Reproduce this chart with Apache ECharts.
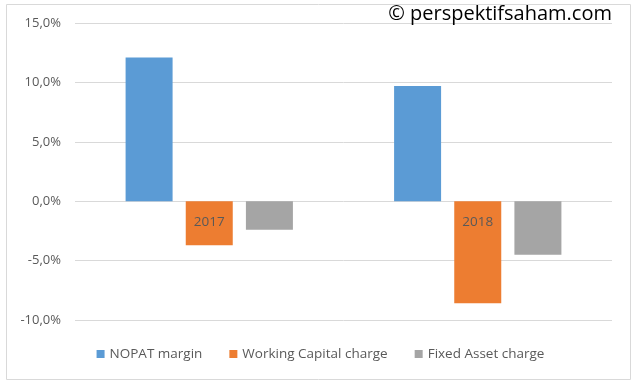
<!DOCTYPE html>
<html><head><meta charset="utf-8">
<script src="https://cdn.jsdelivr.net/npm/echarts@6/dist/echarts.min.js"></script>
<style>html,body{margin:0;padding:0;background:#fff}#c{width:641px;height:386px}</style>
</head><body><div id="c"></div>
<script>
const categories = ['2017', '2018'];
const nopatMargin = [12.1, 9.7];
const workingCapitalCharge = [-3.7, -8.6];
const fixedAssetCharge = [-2.4, -4.5];
const seriesNames = ['NOPAT margin', 'Working Capital charge', 'Fixed Asset charge'];
const watermark = '© perspektifsaham.com';

const chart = echarts.init(document.getElementById('c'));
const fmt = v => v.toFixed(1).replace('.', ',') + '%';
chart.setOption({
  animation: false,
  color: ['#5b9bd5', '#ed7d31', '#a5a5a5'],
  grid: {left: 75, right: 29, top: 23, bottom: 66},
  graphic: [
    {type: 'rect', shape: {x: 6.5, y: 4.5, width: 624, height: 375}, style: {fill: 'none', stroke: '#d9d9d9', lineWidth: 1}, silent: true, z: -10},
    {type: 'text', right: 29, top: 4, style: {text: watermark, font: '20px "Open Sans"', fill: '#000'}, z: 10}
  ],
  legend: {
    bottom: 20, left: 'center', icon: 'rect', itemWidth: 8, itemHeight: 8, itemGap: 27,
    textStyle: {fontFamily: 'Open Sans', fontSize: 13.5, color: '#595959'},
    data: seriesNames
  },
  xAxis: {
    type: 'category', data: categories, z: 5, offset: -119,
    axisLine: {show: false, onZero: false},
    axisTick: {show: false},
    axisLabel: {fontFamily: 'Open Sans', fontSize: 13.5, color: '#595959', margin: 14}
  },
  yAxis: {
    type: 'value', min: -10, max: 15, interval: 5,
    axisLine: {show: false}, axisTick: {show: false},
    splitLine: {lineStyle: {color: '#d9d9d9'}},
    axisLabel: {formatter: fmt, fontFamily: 'Open Sans', fontSize: 13, color: '#595959', margin: 14}
  },
  series: [
    {name: seriesNames[0], type: 'bar', data: nopatMargin, barWidth: 47, barGap: '28%'},
    {name: seriesNames[1], type: 'bar', data: workingCapitalCharge, barWidth: 47, barGap: '28%'},
    {name: seriesNames[2], type: 'bar', data: fixedAssetCharge, barWidth: 47, barGap: '28%'}
  ]
});
</script></body></html>
